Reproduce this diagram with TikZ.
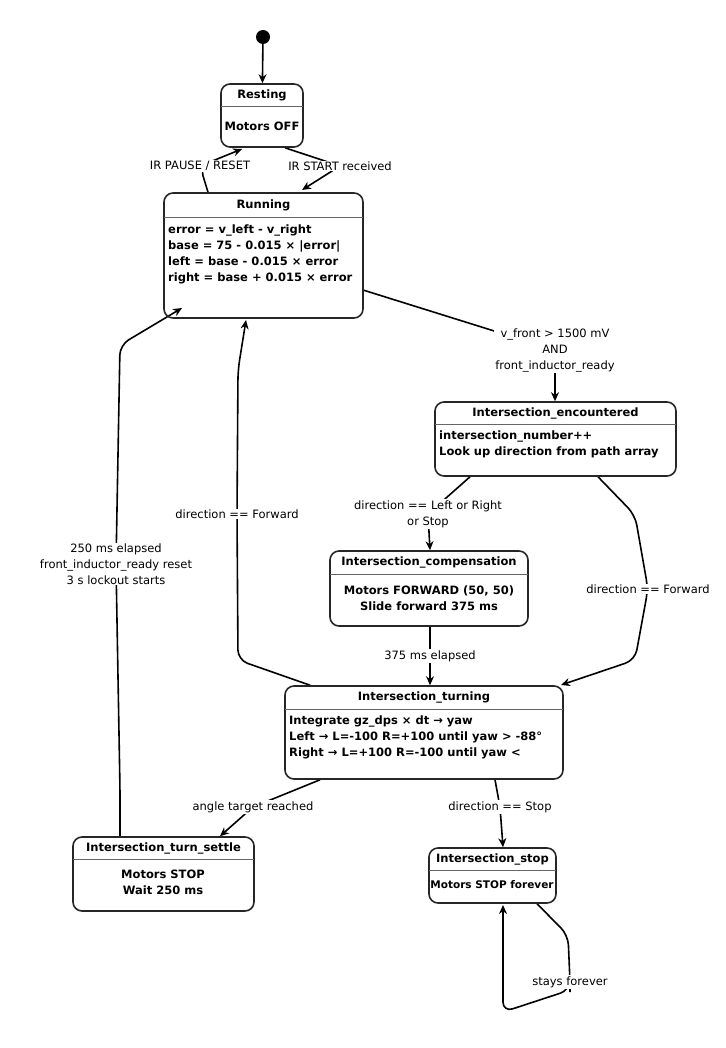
\documentclass[tikz,border=0pt]{standalone}
\usepackage{fontspec}
\setmainfont{DejaVu Sans}
\usetikzlibrary{arrows.meta,fit}
\pgfdeclarelayer{bg}
\pgfsetlayers{bg,main}

\tikzset{
  box/.style={draw=black!85, line width=1.6pt, rounded corners=9pt, inner sep=0pt},
  head/.style={font=\fontsize{11.5}{14}\selectfont\bfseries},
  body/.style={font=\fontsize{11.5}{16}\selectfont\bfseries, inner sep=0pt},
  lbl/.style={fill=white, align=center, inner sep=1pt, font=\fontsize{11.5}{16}\selectfont},
  tr/.style={line width=1.6pt, -{Stealth[length=9pt,width=8pt]}, rounded corners=10pt},
}

% state box: name, x1, y1, x2, y2, y of header rule, title
\newcommand\statebox[7]{%
  \coordinate (#1-a) at (#2,#3);
  \coordinate (#1-b) at (#4,#5);
  \node[box, fit=(#1-a)(#1-b)] (#1) {};
  \draw[line width=0.6pt, black!60] (#2,#6) -- (#4,#6);
  \node[head] at ({(#2+#4)/2},{(#3+#6)/2}) {#7};
}

\begin{document}
\begin{tikzpicture}[x=1pt,y=-1pt]
  \useasboundingbox (0,0) rectangle (725,1048);

  % Start
  \fill (263,37) circle (7) coordinate (start);

  % States
  \statebox{rest}{221}{84}{303}{147}{106}{Resting}
  \node[body] at (262,126) {Motors OFF};

  \statebox{run}{164}{193}{363}{318}{217}{Running}
  \node[body, anchor=north west, align=left] at (168,225)
    {error = v\_left - v\_right\\base = 75 - 0.015 × |error|\\left = base - 0.015 × error\\right = base + 0.015 × error};

  \statebox{enc}{435}{402}{676}{476}{424}{Intersection\_encountered}
  \node[body, anchor=north west, align=left] at (439,431)
    {intersection\_number++\\Look up direction from path array};

  \statebox{comp}{330}{551}{528}{626}{574}{Intersection\_compensation}
  \node[body, align=center] at (429,598) {Motors FORWARD (50, 50)\\Slide forward 375 ms};

  \statebox{turn}{285}{686}{563}{779}{709}{Intersection\_turning}
  \node[body, anchor=north west, align=left] at (289,716)
    {Integrate gz\_dps × dt → yaw\\Left → L=-100 R=+100 until yaw > -88°\\Right → L=+100 R=-100 until yaw <};

  \statebox{settle}{73}{837}{254}{911}{859}{Intersection\_turn\_settle}
  \node[body, align=center] at (163,882) {Motors STOP\\Wait 250 ms};

  \statebox{stop}{429}{848}{556}{903}{870}{Intersection\_stop}
  \node[body, font=\fontsize{10.5}{14}\selectfont\bfseries] at (492,885) {Motors STOP forever};

  % Labels
  \node[lbl] (lpause) at (200,166) {IR PAUSE / RESET};
  \node[lbl] (lstart) at (340,166) {IR START received};
  \node[lbl] (lfront) at (555,350) {v\_front > 1500 mV\\AND\\front\_inductor\_ready};
  \node[lbl] (lleft) at (428,514) {direction == Left or Right\\or Stop};
  \node[lbl] (lfwd) at (648,589) {direction == Forward};
  \node[lbl] (lms) at (430,656) {375 ms elapsed};
  \node[lbl] (lback) at (237,514) {direction == Forward};
  \node[lbl] (langle) at (253,807) {angle target reached};
  \node[lbl] (lsettle) at (116,564) {250 ms elapsed\\front\_inductor\_ready reset\\3 s lockout starts};
  \node[lbl] (ldstop) at (500,807) {direction == Stop};
  \node[lbl] (lstay) at (570,982) {stays forever};

  % Transitions
  \begin{pgfonlayer}{bg}
    \draw[tr] (start) -- (rest);
    \draw[tr] (208,0 |- run.north) -- (lpause.center) -- (242,149);
    \draw[tr] (285,0 |- rest.south) -- (lstart.center) -- (302,190);
    \draw[tr] (363,290) -- (lfront.center) -- (555,0 |- enc.north);
    \draw[tr] (470,0 |- enc.south) -- (lleft.center) -- (430,0 |- comp.north);
    \draw[tr] (598,0 |- enc.south) -- (635,515) -- (lfwd.center) -- (635,660) -- (561,685);
    \draw[tr] (430,0 |- comp.south) -- (lms.center) -- (430,0 |- turn.north);
    \draw[tr] (310,0 |- turn.north) -- (238,660) -- (lback.center) -- (238,370) -- (246,320);
    \draw[tr] (320,0 |- turn.south) -- (langle.center) -- (220,0 |- settle.north);
    \draw[tr] (120,0 |- settle.north) -- (120,790) -- (lsettle.center) -- (120,345) -- (182,308);
    \draw[tr] (495,0 |- turn.south) -- (ldstop.center) -- (503,0 |- stop.north);
    \draw[tr] (537,0 |- stop.south) -- (568,935) -- (lstay.center) -- (570,990) -- (503,1012) -- (503,905);
  \end{pgfonlayer}
\end{tikzpicture}
\end{document}
